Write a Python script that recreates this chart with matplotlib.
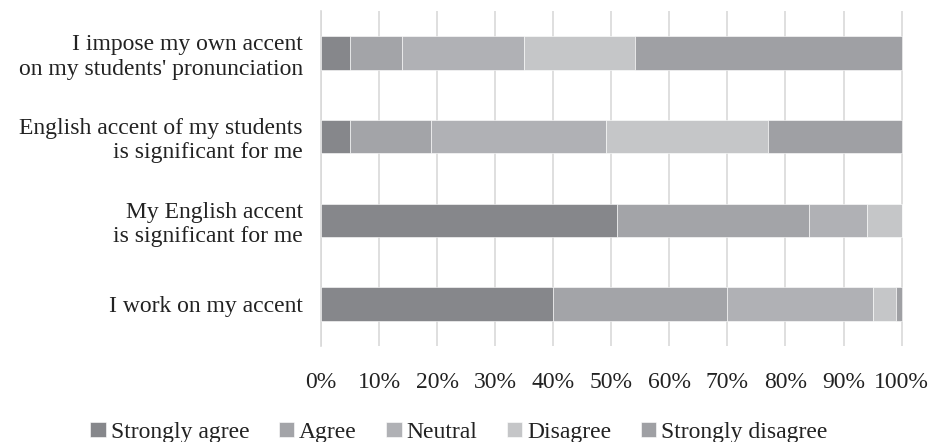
import matplotlib
matplotlib.use("Agg")
import matplotlib.pyplot as plt
import numpy as np

categories = ["I work on my accent",
              "My English accent\nis significant for me",
              "English accent of my students\nis significant for me",
              "I impose my own accent\non my students' pronunciation"]
series_names = ["Strongly agree", "Agree", "Neutral", "Disagree", "Strongly disagree"]
strongly_agree = [40, 51, 5, 5]
agree = [30, 33, 14, 9]
neutral = [25, 10, 30, 21]
disagree = [4, 6, 28, 19]
strongly_disagree = [1, 0, 23, 46]
colors = ["#86878b", "#a3a4a8", "#b0b1b5", "#c5c6c8", "#9fa0a4"]
xticks = [0, 10, 20, 30, 40, 50, 60, 70, 80, 90, 100]

plt.rcParams['font.family'] = ['Liberation Serif', 'DejaVu Serif']

fig = plt.figure(figsize=(9.37, 4.42), dpi=100)
ax = fig.add_axes([0.3426, 0.217, 0.6215, 0.758])

data = [strongly_agree, agree, neutral, disagree, strongly_disagree]
y = np.arange(len(categories))
left = np.zeros(len(categories))
for vals, name, c in zip(data, series_names, colors):
    vals = np.array(vals, dtype=float)
    ax.barh(y, vals, left=left, height=0.4, color=c, label=name,
            edgecolor='white', linewidth=0.4, zorder=3)
    left += vals

ax.set_xlim(0, 100.3)
ax.set_ylim(-0.5, 3.5)
ax.set_xticks(xticks)
ax.set_xticklabels([f"{t}%" for t in xticks], fontsize=17, color='#222222')
ax.set_yticks(y)
ax.set_yticklabels(categories, fontsize=17, color='#222222', ha='right')
ax.tick_params(axis='both', length=0)
ax.tick_params(axis='x', pad=19)
ax.tick_params(axis='y', pad=13)
ax.xaxis.grid(True, color='#d9d9d9', linewidth=1.2, zorder=0)
ax.yaxis.grid(False)
for s in ['top', 'right', 'bottom']:
    ax.spines[s].set_visible(False)
ax.spines['left'].set_color('#d9d9d9')
ax.spines['left'].set_linewidth(1.2)
ax.spines['left'].set_zorder(0)

for lbl in ax.get_yticklabels():
    lbl.set_multialignment('right')

fig.legend(loc='lower center', bbox_to_anchor=(0.49, -0.05), ncol=5, frameon=False,
           fontsize=17, handlelength=0.64, handleheight=0.64, handletextpad=0.22,
           columnspacing=1.25, labelcolor='#222222')

fig.savefig("out.png", dpi=100)
